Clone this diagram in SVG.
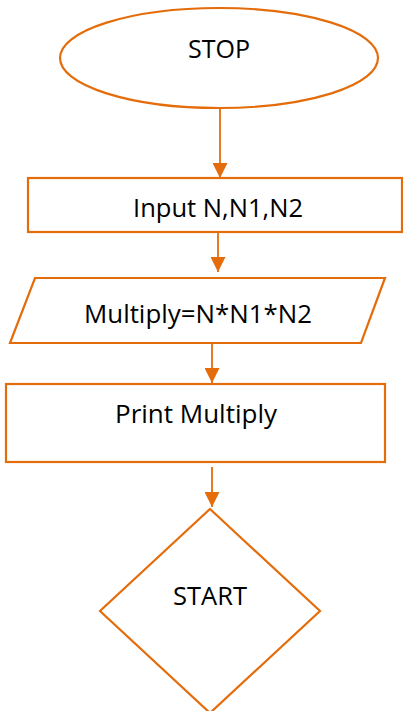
<svg xmlns="http://www.w3.org/2000/svg" width="403" height="711" viewBox="0 0 403 711">
<style>
.shape{fill:#fff;stroke:#E46C0A;stroke-width:2.2}
.conn{fill:none;stroke:#E46C0A;stroke-width:1.8}
.lbl{font-family:"Open Sans","Noto Sans",sans-serif;font-size:25px;fill:#000;text-anchor:middle}
</style>
<defs>
<marker id="ah" markerUnits="userSpaceOnUse" markerWidth="16" markerHeight="15" refX="15" refY="7.5" orient="auto" viewBox="0 0 16 15">
<path d="M0,0 L15,7.5 L0,15 z" fill="#E46C0A"/>
</marker>
</defs>
<rect width="403" height="711" fill="#fff"/>
<g id="connectors">
<line class="conn" x1="220" y1="108" x2="220" y2="178" marker-end="url(#ah)"/>
<line class="conn" x1="218" y1="231" x2="218" y2="272" marker-end="url(#ah)"/>
<line class="conn" x1="212" y1="343" x2="212" y2="383" marker-end="url(#ah)"/>
<line class="conn" x1="212" y1="467" x2="212" y2="507" marker-end="url(#ah)"/>
</g>
<g id="stop">
<ellipse class="shape" cx="219" cy="58" rx="159" ry="50"/>
<text class="lbl" x="219" y="58" textLength="62" lengthAdjust="spacingAndGlyphs">STOP</text>
</g>
<g id="input">
<rect class="shape" x="28" y="178" width="374" height="54"/>
<text class="lbl" x="218" y="217" textLength="170" lengthAdjust="spacingAndGlyphs">Input N,N1,N2</text>
</g>
<g id="multiply">
<polygon class="shape" points="35,278 385,278 361,343 10,343"/>
<text class="lbl" x="198" y="323" textLength="228" lengthAdjust="spacingAndGlyphs">Multiply=N*N1*N2</text>
</g>
<g id="print">
<rect class="shape" x="6" y="384" width="379" height="78"/>
<text class="lbl" x="196" y="423" textLength="162" lengthAdjust="spacingAndGlyphs">Print Multiply</text>
</g>
<g id="start">
<polygon class="shape" points="210,509 320,611 210,713 100,611"/>
<text class="lbl" x="210" y="605" textLength="74" lengthAdjust="spacingAndGlyphs">START</text>
</g>
</svg>
